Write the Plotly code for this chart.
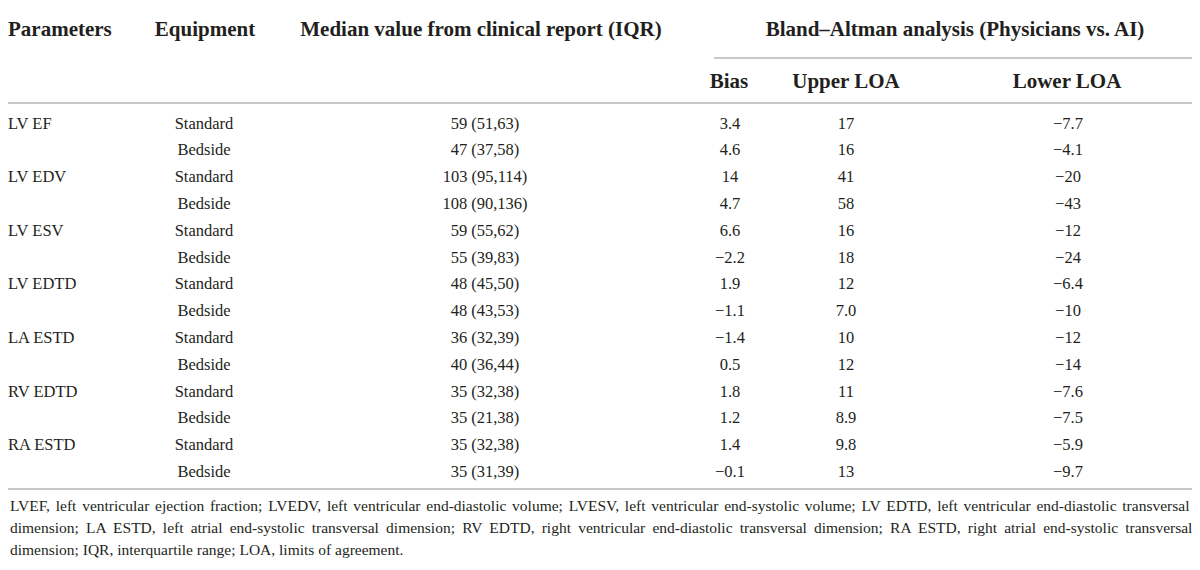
import plotly.graph_objects as go

# table content
parameters = ["LV EF", "LV EDV", "LV ESV", "LV EDTD", "LA ESTD", "RV EDTD", "RA ESTD"]
equipment = ["Standard", "Bedside"]
median_iqr = ["59 (51,63)", "47 (37,58)", "103 (95,114)", "108 (90,136)",
              "59 (55,62)", "55 (39,83)", "48 (45,50)", "48 (43,53)",
              "36 (32,39)", "40 (36,44)", "35 (32,38)", "35 (21,38)",
              "35 (32,38)", "35 (31,39)"]
bias = ["3.4", "4.6", "14", "4.7", "6.6", "\u22122.2", "1.9", "\u22121.1",
        "\u22121.4", "0.5", "1.8", "1.2", "1.4", "\u22120.1"]
upper_loa = ["17", "16", "41", "58", "16", "18", "12", "7.0", "10", "12",
             "11", "8.9", "9.8", "13"]
lower_loa = ["\u22127.7", "\u22124.1", "\u221220", "\u221243", "\u221212",
             "\u221224", "\u22126.4", "\u221210", "\u221212", "\u221214",
             "\u22127.6", "\u22127.5", "\u22125.9", "\u22129.7"]

header_top = ["Parameters", "Equipment", "Median value from clinical report (IQR)",
              "Bland\u2013Altman analysis (Physicians vs. AI)"]
header_sub = ["Bias", "Upper LOA", "Lower LOA"]

footnote = [
    "LVEF, left ventricular ejection fraction; LVEDV, left ventricular end-diastolic volume; "
    "LVESV, left ventricular end-systolic volume; LV EDTD, left ventricular end-diastolic transversal",
    "dimension; LA ESTD, left atrial end-systolic transversal dimension; RV EDTD, right ventricular "
    "end-diastolic transversal dimension; RA ESTD, right atrial end-systolic transversal",
    "dimension; IQR, interquartile range; LOA, limits of agreement.",
]
# extra word spacing (px) to mimic the justified footnote
footnote_spacing = [1.9, 3.3, 0]

FONT = "Liberation Serif, Times New Roman, serif"
INK = "#231f20"
RULE = "#c8c8c8"

n_rows = len(parameters) * len(equipment)
row_y0, row_step = 124.5, 26.8
row_y = [row_y0 + i * row_step for i in range(n_rows)]

param_col = []
for p in parameters:
    param_col += [p, ""]
equip_col = equipment * len(parameters)

fig = go.Figure()


def text_col(x, ys, texts, pos="middle center", size=16.5, bold=False):
    if bold:
        texts = ["<b>%s</b>" % t for t in texts]
    fig.add_trace(go.Scatter(
        x=[x] * len(ys), y=ys, text=texts, mode="text",
        textposition=pos, hoverinfo="skip", showlegend=False, cliponaxis=False,
        textfont=dict(family=FONT, size=size, color=INK)))


# body
text_col(8, row_y, param_col, pos="middle right")
text_col(204, row_y, equip_col)
text_col(485, row_y, median_iqr)
text_col(730, row_y, bias)
text_col(846, row_y, upper_loa)
text_col(1068, row_y, lower_loa)

# headers
HS = 21
text_col(8, [31], header_top[:1], pos="middle right", size=HS, bold=True)
text_col(205, [31], header_top[1:2], size=HS, bold=True)
text_col(481, [31], header_top[2:3], size=HS, bold=True)
text_col(955, [31], header_top[3:4], size=HS, bold=True)
text_col(729, [83], header_sub[:1], size=HS, bold=True)
text_col(846, [83], header_sub[1:2], size=HS, bold=True)
text_col(1067, [83], header_sub[2:3], size=HS, bold=True)

# footnote
for i, line in enumerate(footnote):
    txt = line
    if footnote_spacing[i]:
        txt = '<span style="word-spacing:%.1fpx">%s</span>' % (footnote_spacing[i], line)
    fig.add_annotation(x=8, y=505 + i * 22, text=txt, showarrow=False,
                       xanchor="left", yanchor="middle",
                       font=dict(family=FONT, size=15.5, color=INK))

# rules
fig.add_shape(type="line", x0=714, x1=1195, y0=58, y1=58, line=dict(color=RULE, width=2))
fig.add_shape(type="line", x0=8, x1=1195, y0=103, y1=103, line=dict(color=RULE, width=2))
fig.add_shape(type="line", x0=8, x1=1195, y0=489, y1=489, line=dict(color=RULE, width=2))

# page body has an 8px margin, so offset the ranges to keep screen pixels
fig.update_layout(
    width=1200, height=570,
    margin=dict(l=0, r=0, t=0, b=0),
    paper_bgcolor="white", plot_bgcolor="white",
    xaxis=dict(range=[8, 1208], visible=False, fixedrange=True),
    yaxis=dict(range=[578, 8], visible=False, fixedrange=True),
)

fig.write_html("out.html")
